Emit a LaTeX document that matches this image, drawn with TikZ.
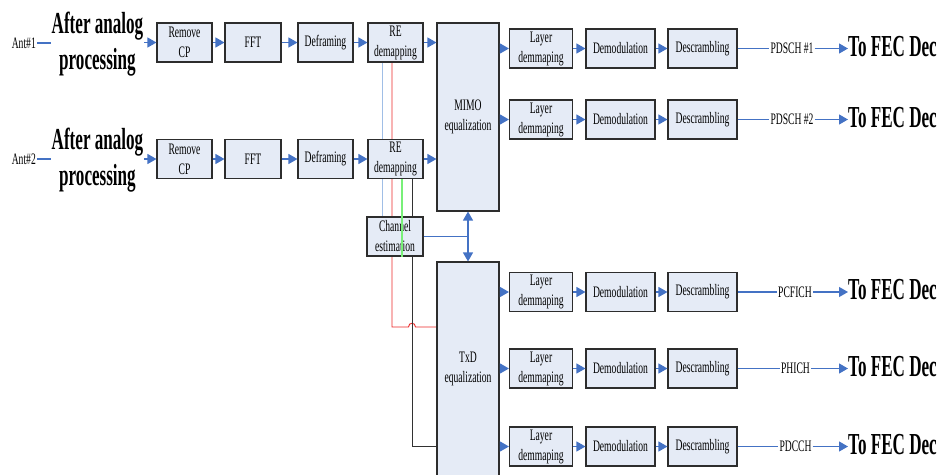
\documentclass[tikz,border=0pt]{standalone}
\usepackage{fontspec}
\setmainfont{Liberation Serif}[FakeStretch=0.6]
\newfontfamily\bigfont{Liberation Serif}[FakeStretch=0.56]
\usetikzlibrary{arrows.meta,backgrounds}
\definecolor{lineblue}{RGB}{68,114,196}
\definecolor{boxfill}{RGB}{229,235,246}
\definecolor{boxdraw}{RGB}{45,45,45}
\definecolor{ltblue}{RGB}{160,190,230}
\definecolor{redl}{RGB}{235,40,40}
\definecolor{greenl}{RGB}{120,240,120}
\definecolor{darkl}{RGB}{50,50,50}
\begin{document}
\begin{tikzpicture}[x=1pt,y=-1pt,
  box/.style={draw=boxdraw,fill=boxfill,line width=1.1pt,minimum height=39pt,inner sep=0pt,align=center,font=\fontsize{16}{20}\selectfont},
  small/.style={inner sep=1pt,font=\fontsize{16}{20}\selectfont},
  big/.style={inner sep=1pt,align=center,font=\bigfont\bfseries\fontsize{30.5}{36}\selectfont},
  arr/.style={draw=lineblue,line width=1.2pt,-{Triangle[length=9pt,width=10pt]}},
  bline/.style={draw=lineblue,line width=1.2pt},
  darr/.style={draw=lineblue,line width=1.2pt,{Triangle[length=9pt,width=10pt]}-{Triangle[length=9pt,width=10pt]}}
]
\clip (0,0) rectangle (945,474);
\useasboundingbox (0,0) rectangle (945,474);

% left inputs
\node[small,anchor=east] (ant1) at (37,43) {Ant\#1};
\node[big] (after1) at (97.5,44) {After analog\\processing};
\node[small,anchor=east] (ant2) at (37,159) {Ant\#2};
\node[big] (after2) at (97.5,160) {After analog\\processing};

% row 1 front end
\node[box,minimum width=55pt] (rcp1) at (184.5,42.5) {Remove\\CP};
\node[box,minimum width=56pt] (fft1) at (253,42.5) {FFT};
\node[box,minimum width=55pt] (def1) at (325.5,42.5) {Deframing};
\node[box,minimum width=55pt] (re1) at (395.5,42.5) {RE\\demapping};
% row 2 front end
\node[box,minimum width=55pt] (rcp2) at (184.5,159) {Remove\\CP};
\node[box,minimum width=56pt] (fft2) at (253,159) {FFT};
\node[box,minimum width=55pt] (def2) at (325.5,159) {Deframing};
\node[box,minimum width=55pt] (re2) at (395.5,159) {RE\\demapping};

% equalizers and channel estimation
\node[box,minimum width=62pt,minimum height=188pt] (mimo) at (468,117) {MIMO\\equalization};
\node[box,minimum width=62pt,minimum height=214pt] (txd) at (468,369) {TxD\\equalization};
\node[box,minimum width=56pt] (ce) at (395,236.5) {Channel\\estimation};

% helper coordinates
\coordinate (xlb) at (382,0);
\coordinate (xr) at (392,0);
\coordinate (xg) at (402,0);
\coordinate (xk) at (412,0);
\coordinate (ry) at (0,327);
\coordinate (ky) at (0,446);

\begin{pgfonlayer}{background}
  \draw[ltblue,line width=0.9pt] (re1.south -| xlb) -- (ce.north -| xlb);
  \draw[redl,line width=0.9pt] (re1.south -| xr) -- (xr |- ry) -- (408.5,327)
     .. controls (408.5,322) and (415.5,322) .. (415.5,327) -- (txd.west |- ry);
  \draw[darkl,line width=0.9pt] (re2.south -| xk) -- (xk |- ky) -- (txd.west |- ky);
\end{pgfonlayer}
\draw[greenl,line width=1.2pt] (re2.south -| xg) -- (ce.south -| xg);

% left connections
\draw[bline] (ant1.east) -- (ant1 -| after1.west);
\draw[bline] (ant2.east) -- (ant2 -| after2.west);
\draw[arr] (rcp1 -| after1.east) -- (rcp1.west);
\draw[arr] (rcp2 -| after2.east) -- (rcp2.west);
\draw[arr] (rcp1.east) -- (fft1.west);
\draw[arr] (fft1.east) -- (def1.west);
\draw[arr] (def1.east) -- (re1.west);
\draw[arr] (re1.east) -- (re1.east -| mimo.west);
\draw[arr] (rcp2.east) -- (fft2.west);
\draw[arr] (fft2.east) -- (def2.west);
\draw[arr] (def2.east) -- (re2.west);
\draw[arr] (re2.east) -- (re2.east -| mimo.west);

% channel estimation to equalizers
\draw[bline] (ce.east) -- (ce.east -| mimo.south);
\draw[darr] (mimo.south) -- (txd.north);

% output rows
\foreach \n/\y/\src/\lab/\lx in {a/48.5/mimo/PDSCH \#1/792, b/119.5/mimo/PDSCH \#2/792, c/292/txd/PCFICH/795, d/368.5/txd/PHICH/795.5, e/446.5/txd/PDCCH/795.5}{
  \node[box,minimum width=63pt] (la\n) at (541,\y) {Layer\\demmaping};
  \node[box,minimum width=69pt] (dm\n) at (620.5,\y) {Demodulation};
  \node[box,minimum width=69pt] (ds\n) at (702.5,\y) {Descrambling};
  \node[small] (lb\n) at (\lx,\y) {\lab};
  \node[big,anchor=west,inner sep=0pt] (fec\n) at (848,\y-2) {To FEC Dec};
  \draw[arr] (la\n.west -| \src.east) -- (la\n.west);
  \draw[arr] (la\n.east) -- (dm\n.west);
  \draw[arr] (dm\n.east) -- (ds\n.west);
  \draw[bline] (ds\n.east) -- (lb\n.west);
  \draw[arr] (lb\n.east) -- (lb\n -| fec\n.west);
}
\end{tikzpicture}
\end{document}
